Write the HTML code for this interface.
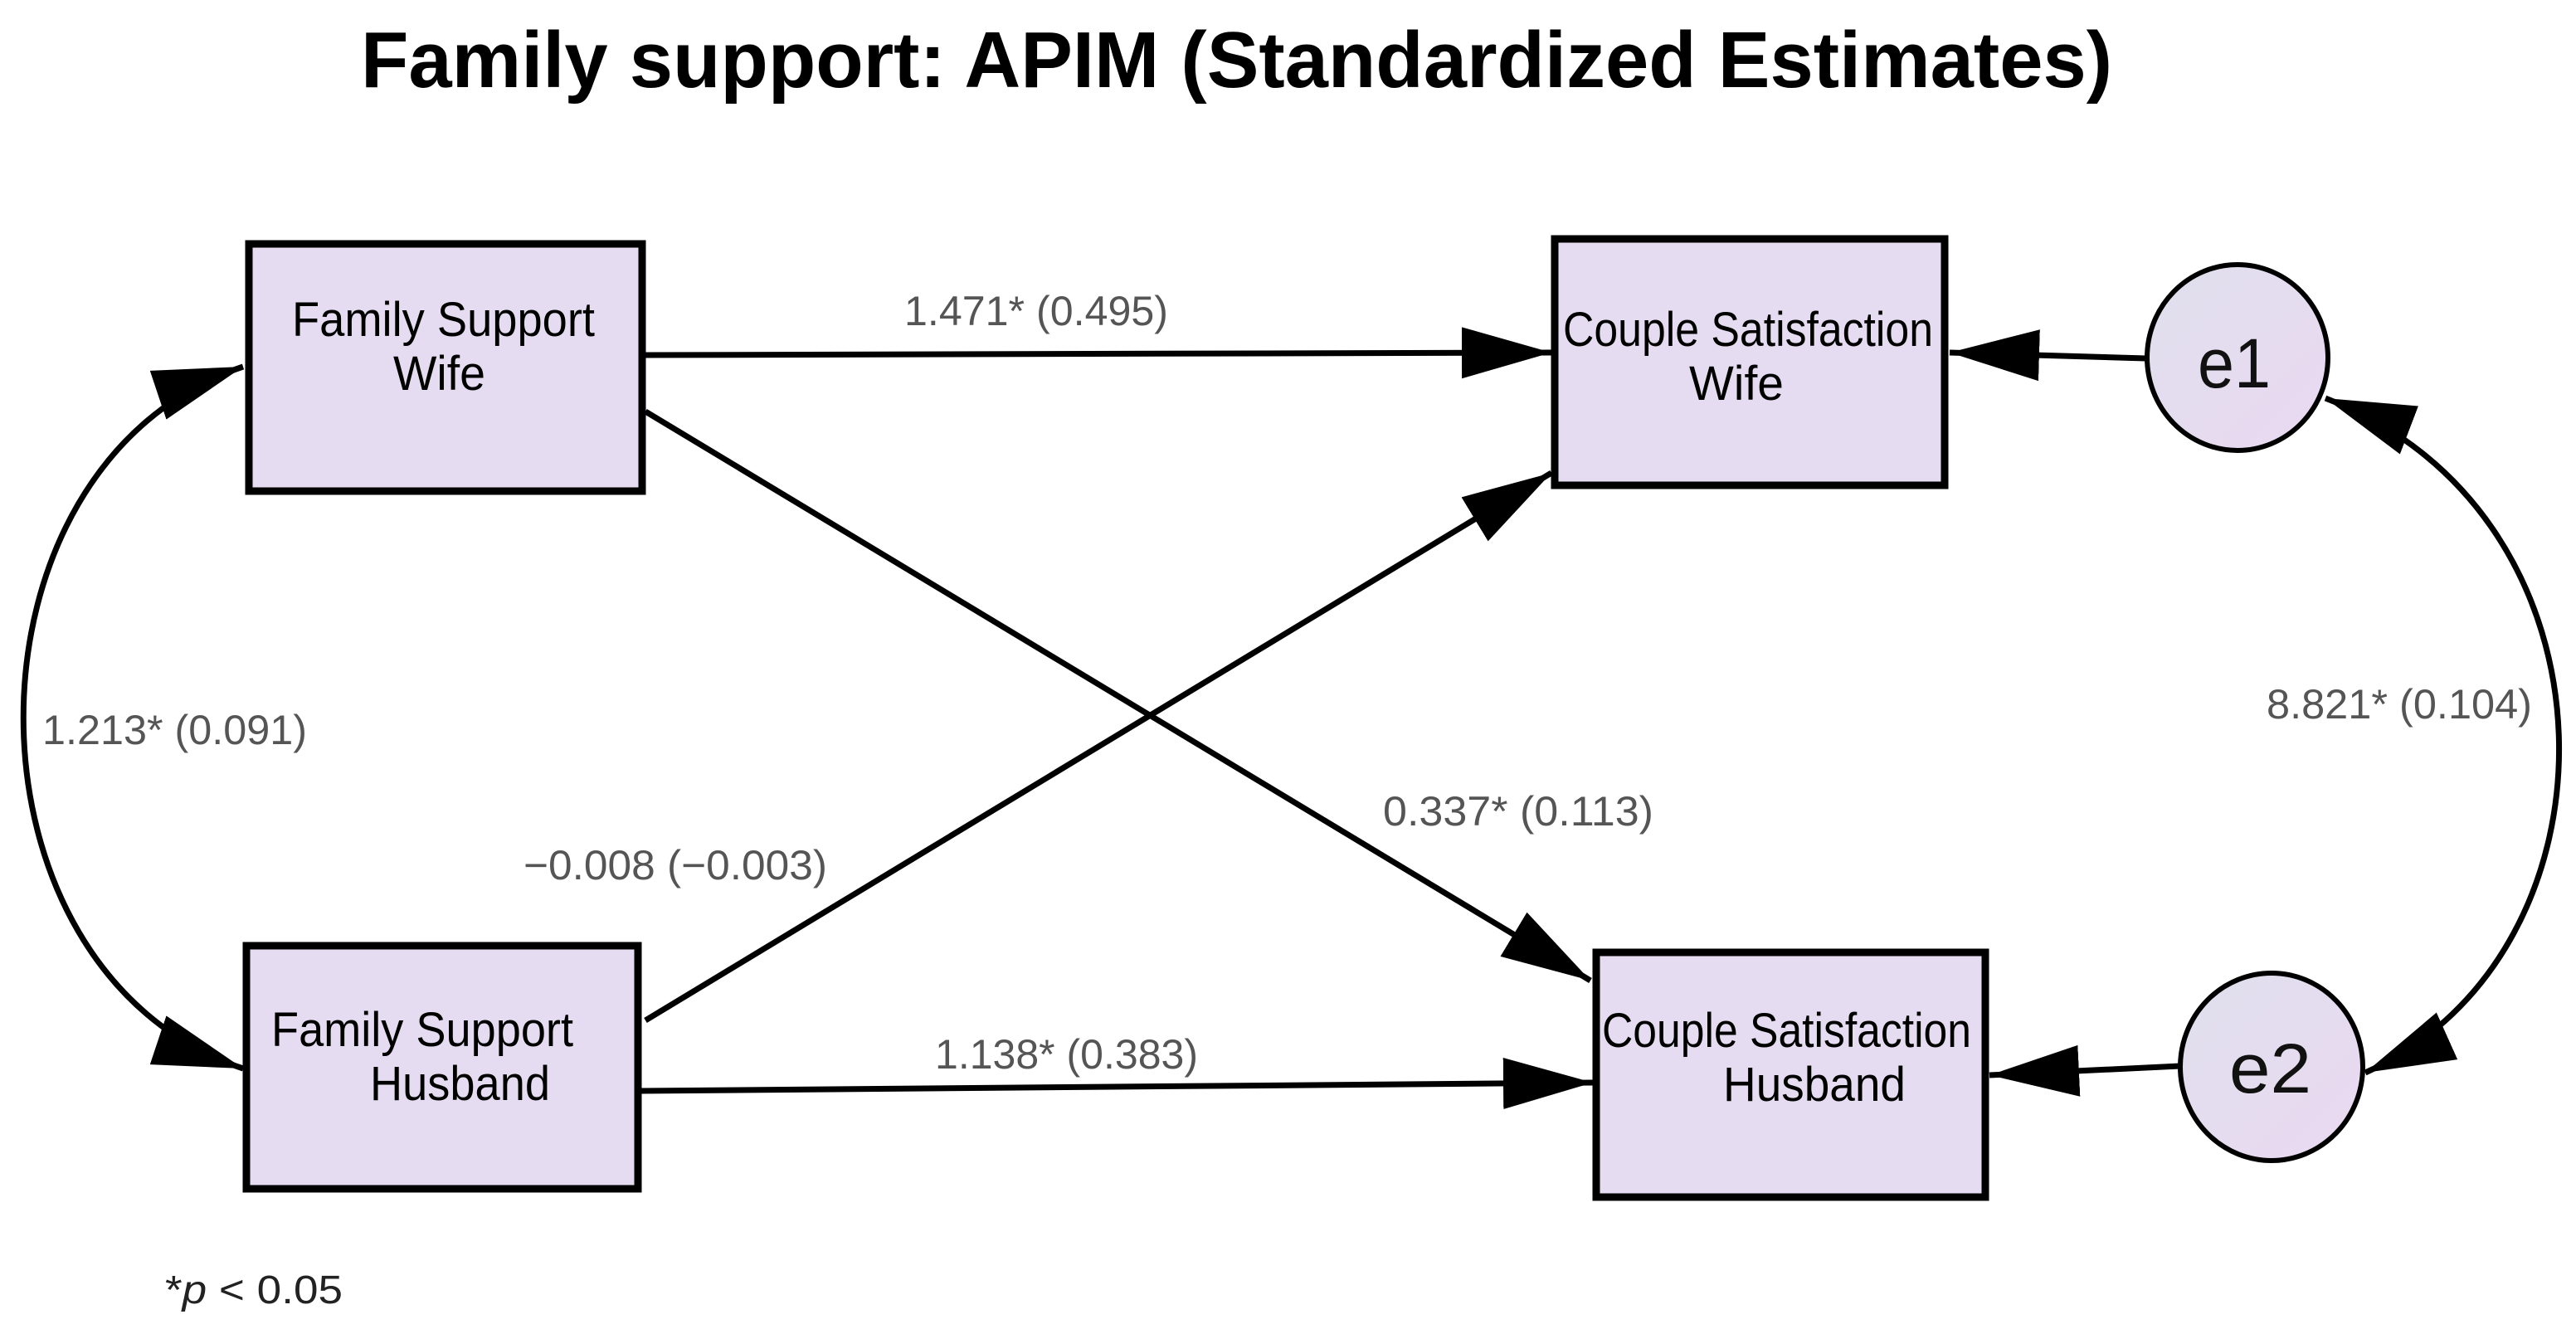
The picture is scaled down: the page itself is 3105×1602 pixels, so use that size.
<!DOCTYPE html>
<html><head><meta charset="utf-8"><style>
html,body{margin:0;padding:0;background:#fff;}
svg{display:block;}
</style></head><body>
<svg width="3105" height="1602" viewBox="0 0 3105 1602" xmlns="http://www.w3.org/2000/svg">
<defs>
<marker id="ah" markerUnits="userSpaceOnUse" markerWidth="112" markerHeight="64" refX="108" refY="31" orient="auto-start-reverse">
<path d="M0,0 L108,31 L0,62 z" fill="#000"/>
</marker>
<linearGradient id="eg" x1="0" y1="0" x2="1" y2="1">
<stop offset="0" stop-color="#dfe0ee"/><stop offset="1" stop-color="#ead8f0"/>
</linearGradient>
</defs>
<rect width="3105" height="1602" fill="#fff"/>

<text x="435" y="105" font-family="Liberation Sans, sans-serif" font-weight="bold" font-size="96" textLength="2111" lengthAdjust="spacingAndGlyphs" fill="#000">Family support: APIM (Standardized Estimates)</text>

<!-- boxes -->
<g fill="#e6dcf1" stroke="#000" stroke-width="9">
<rect x="300" y="294" width="474" height="298"/>
<rect x="1874" y="288" width="470" height="297"/>
<rect x="297" y="1140" width="472" height="293"/>
<rect x="1924" y="1148" width="469" height="295"/>
</g>
<g fill="url(#eg)" stroke="#000" stroke-width="6">
<ellipse cx="2697" cy="431" rx="109" ry="112"/>
<ellipse cx="2738" cy="1286" rx="110" ry="113"/>
</g>

<!-- connectors -->
<g stroke="#000" stroke-width="7" fill="none" marker-end="url(#ah)">
<line x1="778" y1="428" x2="1870" y2="425"/>
<line x1="778" y1="496" x2="1917" y2="1182"/>
<line x1="778" y1="1230" x2="1870" y2="570"/>
<line x1="773" y1="1315" x2="1920" y2="1305"/>
<line x1="2587" y1="432" x2="2350" y2="425"/>
<line x1="2628" y1="1285" x2="2398" y2="1296"/>
<path d="M293,442 C-60,560 -60,1170 293,1288" marker-start="url(#ah)"/>
<path d="M2803,480 C3170,620 3170,1150 2851,1293" marker-start="url(#ah)"/>
</g>

<!-- box text -->
<g font-family="Liberation Sans, sans-serif" font-size="58" fill="#000">
<text x="352" y="405" textLength="365" lengthAdjust="spacingAndGlyphs">Family Support</text>
<text x="474" y="470" textLength="111" lengthAdjust="spacingAndGlyphs">Wife</text>
<text x="1884" y="417" textLength="446" lengthAdjust="spacingAndGlyphs">Couple Satisfaction</text>
<text x="2036" y="482" textLength="114" lengthAdjust="spacingAndGlyphs">Wife</text>
<text x="327" y="1261" textLength="364" lengthAdjust="spacingAndGlyphs">Family Support</text>
<text x="446" y="1326" textLength="217" lengthAdjust="spacingAndGlyphs">Husband</text>
<text x="1931" y="1262" textLength="445" lengthAdjust="spacingAndGlyphs">Couple Satisfaction</text>
<text x="2077" y="1327" textLength="220" lengthAdjust="spacingAndGlyphs">Husband</text>
</g>
<g font-family="Liberation Sans, sans-serif" font-size="84" fill="#111">
<text x="2649" y="467" textLength="88" lengthAdjust="spacingAndGlyphs">e1</text>
<text x="2687" y="1317" textLength="99" lengthAdjust="spacingAndGlyphs">e2</text>
</g>

<!-- labels -->
<g font-family="Liberation Sans, sans-serif" font-size="50" fill="#555">
<text x="1090" y="392" textLength="318" lengthAdjust="spacingAndGlyphs">1.471* (0.495)</text>
<text x="51" y="897" textLength="319" lengthAdjust="spacingAndGlyphs">1.213* (0.091)</text>
<text x="2732" y="866" textLength="320" lengthAdjust="spacingAndGlyphs">8.821* (0.104)</text>
<text x="1667" y="995" textLength="326" lengthAdjust="spacingAndGlyphs">0.337* (0.113)</text>
<text x="631" y="1060" textLength="366" lengthAdjust="spacingAndGlyphs">−0.008 (−0.003)</text>
<text x="1127" y="1288" textLength="317" lengthAdjust="spacingAndGlyphs">1.138* (0.383)</text>
</g>
<text x="199" y="1571" font-family="Liberation Sans, sans-serif" font-size="48" fill="#222" textLength="214" lengthAdjust="spacingAndGlyphs">*<tspan font-style="italic">p</tspan> &lt; 0.05</text>
</svg>
</body></html>
